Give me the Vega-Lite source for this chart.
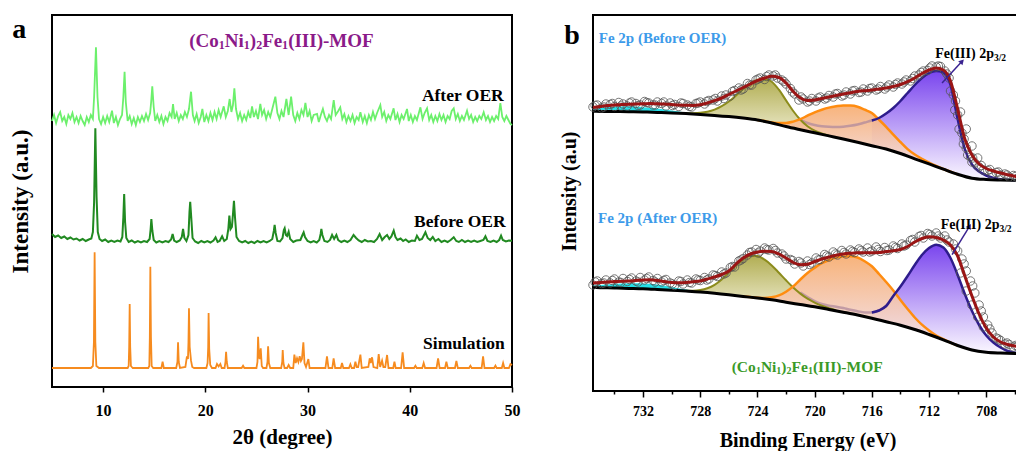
{
"$schema":"https://vega.github.io/schema/vega-lite/v6.json",
"background":"white",
"padding":{"left":8,"top":14,"right":0,"bottom":0},
"spacing":37,
"config":{"view":{"stroke":"black","strokeWidth":2},"font":"Liberation Serif",
"axis":{"labelFont":"Liberation Serif","labelFontWeight":"bold","titleFont":"Liberation Serif","titleFontWeight":"bold","labelColor":"black","titleColor":"black","tickColor":"black","tickWidth":1.5,"domain":false,"grid":false}},
"datasets":{
"sim":[{"x":5,"y":19},{"x":8.8,"y":19},{"x":9.0,"y":21},{"x":9.1,"y":45},{"x":9.17,"y":134.7},{"x":9.24,"y":45},{"x":9.34,"y":21},{"x":9.6,"y":19},{"x":12.4,"y":19},{"x":12.5,"y":21},{"x":12.55,"y":40},{"x":12.6,"y":83},{"x":12.65,"y":40},{"x":12.72,"y":21},{"x":12.9,"y":19},{"x":14.42,"y":19},{"x":14.52,"y":21},{"x":14.57,"y":50},{"x":14.62,"y":120.3},{"x":14.68,"y":50},{"x":14.75,"y":21},{"x":14.9,"y":19},{"x":15.7,"y":19},{"x":15.82,"y":25.3},{"x":15.94,"y":19},{"x":17.15,"y":19},{"x":17.27,"y":25},{"x":17.33,"y":44.7},{"x":17.4,"y":25},{"x":17.52,"y":19},{"x":18.05,"y":20},{"x":18.2,"y":30.7},{"x":18.3,"y":28},{"x":18.35,"y":45},{"x":18.4,"y":78.7},{"x":18.47,"y":40},{"x":18.6,"y":26.3},{"x":18.72,"y":20},{"x":18.9,"y":19},{"x":20.1,"y":19},{"x":20.22,"y":24},{"x":20.28,"y":40},{"x":20.32,"y":74},{"x":20.38,"y":38},{"x":20.48,"y":22},{"x":20.65,"y":19},{"x":21.0,"y":19},{"x":21.14,"y":23},{"x":21.3,"y":20.5},{"x":21.47,"y":23},{"x":21.6,"y":19},{"x":21.88,"y":19},{"x":21.97,"y":25},{"x":22.03,"y":35.3},{"x":22.1,"y":25},{"x":22.2,"y":19},{"x":23.55,"y":19},{"x":23.69,"y":21.3},{"x":23.82,"y":19},{"x":25.0,"y":19},{"x":25.1,"y":25},{"x":25.16,"y":50.3},{"x":25.25,"y":30},{"x":25.32,"y":28},{"x":25.42,"y":38.7},{"x":25.52,"y":21},{"x":25.65,"y":19},{"x":25.98,"y":19},{"x":26.08,"y":25},{"x":26.14,"y":40.7},{"x":26.22,"y":24},{"x":26.35,"y":19},{"x":27.42,"y":19},{"x":27.52,"y":25},{"x":27.57,"y":37},{"x":27.64,"y":24},{"x":27.75,"y":19},{"x":28.0,"y":19},{"x":28.15,"y":22},{"x":28.3,"y":19},{"x":28.6,"y":19},{"x":28.71,"y":32.3},{"x":28.84,"y":24},{"x":28.97,"y":28.7},{"x":29.1,"y":25},{"x":29.23,"y":30.7},{"x":29.35,"y":26},{"x":29.45,"y":28},{"x":29.59,"y":44.7},{"x":29.7,"y":24},{"x":29.85,"y":20},{"x":30.08,"y":28},{"x":30.2,"y":19},{"x":31.75,"y":19},{"x":31.9,"y":30.7},{"x":32.05,"y":19},{"x":32.42,"y":19},{"x":32.55,"y":28.7},{"x":32.7,"y":19},{"x":33.25,"y":19},{"x":33.37,"y":24},{"x":33.5,"y":19},{"x":34.05,"y":19},{"x":34.19,"y":22.7},{"x":34.32,"y":19},{"x":34.55,"y":19},{"x":34.68,"y":25.3},{"x":34.8,"y":20},{"x":34.95,"y":20},{"x":35.17,"y":32.3},{"x":35.3,"y":19},{"x":35.95,"y":20},{"x":36.08,"y":28.7},{"x":36.18,"y":24},{"x":36.31,"y":29.7},{"x":36.45,"y":20},{"x":36.82,"y":19},{"x":36.96,"y":33},{"x":37.1,"y":20},{"x":37.29,"y":26.3},{"x":37.42,"y":20},{"x":37.6,"y":20},{"x":37.78,"y":32},{"x":37.92,"y":19},{"x":38.38,"y":19},{"x":38.5,"y":25.3},{"x":38.62,"y":19},{"x":39.15,"y":19},{"x":39.3,"y":34.7},{"x":39.45,"y":19},{"x":40.42,"y":19},{"x":40.55,"y":21.3},{"x":40.68,"y":19},{"x":41.22,"y":19},{"x":41.36,"y":24},{"x":41.5,"y":19},{"x":42.62,"y":19},{"x":42.77,"y":28.7},{"x":42.92,"y":19},{"x":43.45,"y":19},{"x":43.58,"y":25.3},{"x":43.72,"y":19},{"x":44.42,"y":19},{"x":44.56,"y":26},{"x":44.7,"y":19},{"x":45.8,"y":19},{"x":45.93,"y":21.3},{"x":46.06,"y":19},{"x":47.03,"y":19},{"x":47.17,"y":30.7},{"x":47.31,"y":19},{"x":48.25,"y":19},{"x":48.38,"y":21.3},{"x":48.5,"y":19},{"x":49.0,"y":19},{"x":49.13,"y":24},{"x":49.26,"y":19},{"x":49.7,"y":19},{"x":49.85,"y":23},{"x":50,"y":22}],
"bef":[{"x":5,"y":153},{"x":5.3,"y":150},{"x":5.6,"y":151.5},{"x":5.9,"y":149},{"x":6.2,"y":150.5},{"x":6.5,"y":148},{"x":6.8,"y":149.5},{"x":7.1,"y":147.5},{"x":7.4,"y":148.5},{"x":7.7,"y":146.5},{"x":8.0,"y":148},{"x":8.3,"y":146},{"x":8.6,"y":147.5},{"x":8.85,"y":148.5},{"x":9.0,"y":155},{"x":9.12,"y":185},{"x":9.24,"y":258.7},{"x":9.36,"y":190},{"x":9.48,"y":155},{"x":9.65,"y":148},{"x":9.9,"y":146},{"x":10.2,"y":147.5},{"x":10.5,"y":145},{"x":10.8,"y":146.5},{"x":11.1,"y":145},{"x":11.4,"y":146.5},{"x":11.7,"y":145.5},{"x":11.88,"y":150},{"x":11.98,"y":170},{"x":12.06,"y":193},{"x":12.15,"y":165},{"x":12.27,"y":149},{"x":12.5,"y":145},{"x":12.8,"y":146.5},{"x":13.1,"y":144.5},{"x":13.4,"y":146},{"x":13.7,"y":144.5},{"x":14.0,"y":146},{"x":14.3,"y":145},{"x":14.55,"y":148},{"x":14.65,"y":158},{"x":14.72,"y":168},{"x":14.82,"y":156},{"x":14.95,"y":147},{"x":15.2,"y":144.5},{"x":15.5,"y":146},{"x":15.8,"y":144.5},{"x":16.1,"y":146},{"x":16.4,"y":145},{"x":16.65,"y":147.5},{"x":16.8,"y":153},{"x":16.95,"y":146.5},{"x":17.2,"y":145},{"x":17.5,"y":146.5},{"x":17.7,"y":150},{"x":17.82,"y":158},{"x":17.95,"y":149},{"x":18.15,"y":146},{"x":18.35,"y":152},{"x":18.45,"y":175},{"x":18.52,"y":185.3},{"x":18.62,"y":170},{"x":18.75,"y":149},{"x":19.0,"y":145.5},{"x":19.3,"y":144},{"x":19.6,"y":146},{"x":19.9,"y":144.5},{"x":20.2,"y":146},{"x":20.5,"y":144.5},{"x":20.8,"y":146.5},{"x":21.0,"y":149.7},{"x":21.2,"y":145},{"x":21.4,"y":146},{"x":21.64,"y":150.7},{"x":21.85,"y":146},{"x":22.1,"y":148},{"x":22.25,"y":158},{"x":22.35,"y":171.3},{"x":22.47,"y":158},{"x":22.6,"y":160},{"x":22.72,"y":175},{"x":22.8,"y":186.3},{"x":22.9,"y":170},{"x":23.05,"y":150},{"x":23.3,"y":146},{"x":23.6,"y":144.5},{"x":23.9,"y":146},{"x":24.2,"y":144},{"x":24.5,"y":145.5},{"x":24.8,"y":144},{"x":25.1,"y":146},{"x":25.4,"y":144.5},{"x":25.7,"y":146},{"x":26.0,"y":144.5},{"x":26.3,"y":146},{"x":26.55,"y":148},{"x":26.7,"y":156},{"x":26.78,"y":162},{"x":26.88,"y":154},{"x":27.05,"y":146},{"x":27.3,"y":145.5},{"x":27.55,"y":149},{"x":27.68,"y":157},{"x":27.76,"y":158.7},{"x":27.88,"y":152},{"x":28.0,"y":151},{"x":28.15,"y":155.3},{"x":28.3,"y":148},{"x":28.6,"y":145},{"x":28.9,"y":146.5},{"x":29.3,"y":147},{"x":29.5,"y":152},{"x":29.62,"y":154.7},{"x":29.75,"y":150},{"x":30.0,"y":146},{"x":30.3,"y":144.5},{"x":30.6,"y":146},{"x":30.9,"y":144.5},{"x":31.15,"y":147},{"x":31.28,"y":153},{"x":31.35,"y":158},{"x":31.45,"y":152},{"x":31.65,"y":146},{"x":31.95,"y":145},{"x":32.2,"y":147},{"x":32.4,"y":152},{"x":32.6,"y":148},{"x":32.82,"y":152},{"x":33.0,"y":147},{"x":33.3,"y":145},{"x":33.6,"y":146.5},{"x":33.9,"y":145},{"x":34.2,"y":147},{"x":34.5,"y":152},{"x":34.75,"y":149},{"x":35.0,"y":146.5},{"x":35.3,"y":145},{"x":35.6,"y":147},{"x":35.9,"y":145.5},{"x":36.2,"y":146},{"x":36.5,"y":145},{"x":36.8,"y":148},{"x":37.05,"y":153},{"x":37.3,"y":147},{"x":37.55,"y":150},{"x":37.78,"y":152},{"x":38.0,"y":148},{"x":38.2,"y":150.5},{"x":38.43,"y":156.3},{"x":38.6,"y":150},{"x":38.8,"y":147},{"x":39.1,"y":148.5},{"x":39.35,"y":146},{"x":39.6,"y":147.5},{"x":39.9,"y":145},{"x":40.2,"y":146.5},{"x":40.5,"y":146},{"x":40.7,"y":151.3},{"x":40.95,"y":147},{"x":41.2,"y":148},{"x":41.53,"y":154.7},{"x":41.75,"y":149},{"x":42.0,"y":147},{"x":42.25,"y":150},{"x":42.5,"y":146},{"x":42.8,"y":148},{"x":43.1,"y":145},{"x":43.4,"y":146.5},{"x":43.7,"y":145},{"x":44.0,"y":147},{"x":44.3,"y":149.7},{"x":44.55,"y":146},{"x":44.8,"y":145},{"x":45.1,"y":147},{"x":45.4,"y":145},{"x":45.7,"y":146.5},{"x":46.0,"y":145},{"x":46.3,"y":146.5},{"x":46.6,"y":145},{"x":46.9,"y":146},{"x":47.2,"y":147},{"x":47.4,"y":150.7},{"x":47.6,"y":146},{"x":47.9,"y":145},{"x":48.2,"y":146.5},{"x":48.5,"y":145},{"x":48.75,"y":147},{"x":48.93,"y":151.3},{"x":49.1,"y":147},{"x":49.4,"y":145.5},{"x":49.7,"y":146.5},{"x":50,"y":146.3}],
"aft":[{"x":5,"y":266},{"x":5.2,"y":272},{"x":5.4,"y":264},{"x":5.6,"y":271},{"x":5.8,"y":275},{"x":6.0,"y":266},{"x":6.2,"y":270},{"x":6.4,"y":263},{"x":6.6,"y":272},{"x":6.8,"y":268},{"x":7.0,"y":274},{"x":7.2,"y":265},{"x":7.4,"y":270},{"x":7.6,"y":264},{"x":7.8,"y":271},{"x":8.0,"y":266},{"x":8.2,"y":262},{"x":8.4,"y":270},{"x":8.6,"y":265},{"x":8.8,"y":272},{"x":9.0,"y":268},{"x":9.12,"y":290},{"x":9.3,"y":339.7},{"x":9.45,"y":290},{"x":9.6,"y":268},{"x":9.8,"y":263},{"x":10.0,"y":270},{"x":10.2,"y":264},{"x":10.4,"y":271},{"x":10.6,"y":265},{"x":10.87,"y":276.3},{"x":11.05,"y":264},{"x":11.25,"y":270},{"x":11.45,"y":262},{"x":11.65,"y":268},{"x":11.85,"y":272},{"x":11.98,"y":290},{"x":12.1,"y":315.3},{"x":12.22,"y":285},{"x":12.4,"y":266},{"x":12.6,"y":271},{"x":12.8,"y":263},{"x":13.0,"y":269},{"x":13.2,"y":262},{"x":13.4,"y":270},{"x":13.6,"y":265},{"x":13.8,"y":271},{"x":14.0,"y":266},{"x":14.2,"y":273},{"x":14.4,"y":267},{"x":14.6,"y":274},{"x":14.7,"y":285},{"x":14.81,"y":300.7},{"x":14.95,"y":280},{"x":15.1,"y":266},{"x":15.3,"y":272},{"x":15.5,"y":265},{"x":15.7,"y":271},{"x":15.9,"y":263},{"x":16.1,"y":270},{"x":16.3,"y":266},{"x":16.5,"y":274},{"x":16.7,"y":270},{"x":16.84,"y":283},{"x":17.0,"y":268},{"x":17.2,"y":274},{"x":17.4,"y":266},{"x":17.6,"y":272},{"x":17.8,"y":268},{"x":18.0,"y":275},{"x":18.2,"y":270},{"x":18.4,"y":278},{"x":18.6,"y":295.3},{"x":18.78,"y":272},{"x":18.95,"y":266},{"x":19.15,"y":273},{"x":19.35,"y":264},{"x":19.55,"y":270},{"x":19.71,"y":278},{"x":19.9,"y":265},{"x":20.1,"y":272},{"x":20.3,"y":266},{"x":20.5,"y":274},{"x":20.7,"y":267},{"x":20.9,"y":275},{"x":21.1,"y":268},{"x":21.3,"y":277},{"x":21.5,"y":270},{"x":21.8,"y":280.7},{"x":22.0,"y":270},{"x":22.2,"y":276},{"x":22.38,"y":288},{"x":22.55,"y":275},{"x":22.7,"y":282},{"x":22.84,"y":298.7},{"x":23.0,"y":278},{"x":23.2,"y":268},{"x":23.4,"y":274},{"x":23.6,"y":266},{"x":23.8,"y":272},{"x":24.0,"y":267},{"x":24.2,"y":275},{"x":24.4,"y":269},{"x":24.57,"y":280.7},{"x":24.75,"y":270},{"x":24.95,"y":276},{"x":25.15,"y":268},{"x":25.38,"y":283},{"x":25.55,"y":272},{"x":25.75,"y":277},{"x":25.95,"y":268},{"x":26.15,"y":275},{"x":26.35,"y":270},{"x":26.55,"y":278},{"x":26.85,"y":290.3},{"x":27.05,"y":274},{"x":27.25,"y":268},{"x":27.45,"y":276},{"x":27.65,"y":270},{"x":27.93,"y":288},{"x":28.15,"y":272},{"x":28.39,"y":290.3},{"x":28.6,"y":272},{"x":28.8,"y":266},{"x":29.0,"y":274},{"x":29.2,"y":268},{"x":29.4,"y":277},{"x":29.6,"y":272},{"x":29.79,"y":284},{"x":30.0,"y":270},{"x":30.2,"y":276},{"x":30.4,"y":266},{"x":30.6,"y":272},{"x":30.93,"y":273},{"x":31.1,"y":265},{"x":31.3,"y":272},{"x":31.5,"y":278},{"x":31.7,"y":270},{"x":31.9,"y":266},{"x":32.1,"y":272},{"x":32.3,"y":268},{"x":32.56,"y":287},{"x":32.75,"y":272},{"x":33.0,"y":276},{"x":33.2,"y":279.7},{"x":33.4,"y":268},{"x":33.6,"y":273},{"x":33.8,"y":265},{"x":34.0,"y":271},{"x":34.2,"y":266},{"x":34.4,"y":272},{"x":34.6,"y":264},{"x":34.8,"y":270},{"x":35.0,"y":267},{"x":35.17,"y":274.7},{"x":35.4,"y":265},{"x":35.6,"y":271},{"x":35.8,"y":264},{"x":36.0,"y":272},{"x":36.2,"y":267},{"x":36.4,"y":275},{"x":36.6,"y":268},{"x":36.8,"y":274},{"x":37.12,"y":282},{"x":37.3,"y":270},{"x":37.5,"y":275},{"x":37.7,"y":266},{"x":37.9,"y":272},{"x":38.1,"y":268},{"x":38.42,"y":278.7},{"x":38.6,"y":267},{"x":38.8,"y":273},{"x":39.0,"y":265},{"x":39.2,"y":272},{"x":39.4,"y":268},{"x":39.73,"y":278},{"x":39.9,"y":266},{"x":40.1,"y":272},{"x":40.3,"y":265},{"x":40.5,"y":271},{"x":40.7,"y":267},{"x":41.04,"y":279.7},{"x":41.25,"y":268},{"x":41.45,"y":274},{"x":41.69,"y":278.7},{"x":41.9,"y":267},{"x":42.1,"y":272},{"x":42.3,"y":265},{"x":42.5,"y":271},{"x":42.7,"y":266},{"x":42.9,"y":273},{"x":43.1,"y":267},{"x":43.3,"y":272},{"x":43.5,"y":265},{"x":43.7,"y":271},{"x":43.9,"y":268},{"x":44.1,"y":276},{"x":44.3,"y":278.7},{"x":44.5,"y":268},{"x":44.7,"y":273},{"x":44.9,"y":266},{"x":45.1,"y":271},{"x":45.3,"y":267},{"x":45.6,"y":276.3},{"x":45.8,"y":268},{"x":46.0,"y":272},{"x":46.2,"y":265},{"x":46.4,"y":270},{"x":46.6,"y":266},{"x":46.8,"y":271},{"x":47.0,"y":268},{"x":47.23,"y":274.7},{"x":47.45,"y":267},{"x":47.65,"y":271},{"x":47.85,"y":265},{"x":48.05,"y":270},{"x":48.25,"y":266},{"x":48.45,"y":271},{"x":48.65,"y":268},{"x":48.86,"y":284},{"x":49.05,"y":270},{"x":49.25,"y":266},{"x":49.45,"y":271},{"x":49.65,"y":267},{"x":49.85,"y":263},{"x":50,"y":262}],
"bg":[{"s":"U","x":735.5,"y":279.7},{"s":"U","x":735,"y":279.6},{"s":"U","x":734,"y":279.5},{"s":"U","x":733,"y":279.3},{"s":"U","x":732,"y":279},{"s":"U","x":731,"y":278.6},{"s":"U","x":730,"y":278.1},{"s":"U","x":729,"y":277.4},{"s":"U","x":728,"y":276.6},{"s":"U","x":727,"y":275.6},{"s":"U","x":726,"y":274.4},{"s":"U","x":725,"y":272.9},{"s":"U","x":724,"y":271},{"s":"U","x":723,"y":268},{"s":"U","x":722,"y":264.5},{"s":"U","x":721,"y":261.3},{"s":"U","x":720,"y":258.2},{"s":"U","x":719,"y":255.1},{"s":"U","x":718,"y":252},{"s":"U","x":717,"y":248.7},{"s":"U","x":716,"y":245.3},{"s":"U","x":715,"y":242},{"s":"U","x":714,"y":237.5},{"s":"U","x":713,"y":232.2},{"s":"U","x":712,"y":227.1},{"s":"U","x":711,"y":221.8},{"s":"U","x":710,"y":216.7},{"s":"U","x":709,"y":212.8},{"s":"U","x":708,"y":211.5},{"s":"U","x":707,"y":211},{"s":"U","x":706,"y":210.7},{"s":"U","x":705.5,"y":210.6},
{"s":"L","x":735.5,"y":103.5},{"s":"L","x":735,"y":103.3},{"s":"L","x":734,"y":103},{"s":"L","x":733,"y":102.6},{"s":"L","x":732,"y":102.2},{"s":"L","x":731,"y":101.5},{"s":"L","x":730,"y":100.7},{"s":"L","x":729,"y":99.9},{"s":"L","x":728,"y":99},{"s":"L","x":727,"y":97.8},{"s":"L","x":726,"y":96.3},{"s":"L","x":725,"y":94.6},{"s":"L","x":724,"y":93},{"s":"L","x":723,"y":91.2},{"s":"L","x":722,"y":88.8},{"s":"L","x":721,"y":86.5},{"s":"L","x":720,"y":84.2},{"s":"L","x":719,"y":81.5},{"s":"L","x":718,"y":78.8},{"s":"L","x":717,"y":76},{"s":"L","x":716,"y":72.8},{"s":"L","x":715,"y":69.3},{"s":"L","x":714,"y":65.8},{"s":"L","x":713,"y":61.5},{"s":"L","x":712,"y":56.5},{"s":"L","x":711,"y":51.2},{"s":"L","x":710,"y":45.5},{"s":"L","x":709,"y":41},{"s":"L","x":708,"y":38.8},{"s":"L","x":707,"y":38},{"s":"L","x":706,"y":37.6},{"s":"L","x":705.5,"y":37.5}],
"env":[{"s":"U","x":735.5,"y":283.5},{"s":"U","x":735,"y":284.5},{"s":"U","x":734.5,"y":285.5},{"s":"U","x":734,"y":286},{"s":"U","x":733.5,"y":286.5},{"s":"U","x":733,"y":286.8},{"s":"U","x":732.5,"y":287},{"s":"U","x":732,"y":287.2},{"s":"U","x":731.5,"y":287.5},{"s":"U","x":731,"y":287.3},{"s":"U","x":730.5,"y":287},{"s":"U","x":730,"y":286.5},{"s":"U","x":729.5,"y":286},{"s":"U","x":729,"y":285.7},{"s":"U","x":728.5,"y":285.5},{"s":"U","x":728,"y":286.3},{"s":"U","x":727.5,"y":288},{"s":"U","x":727,"y":290.3},{"s":"U","x":726.5,"y":293},{"s":"U","x":726,"y":296.5},{"s":"U","x":725.5,"y":300},{"s":"U","x":725,"y":303.5},{"s":"U","x":724.5,"y":307},{"s":"U","x":724,"y":310.3},{"s":"U","x":723.5,"y":313},{"s":"U","x":723,"y":314.7},{"s":"U","x":722.5,"y":313.5},{"s":"U","x":722,"y":308},{"s":"U","x":721.5,"y":299.5},{"s":"U","x":721,"y":293},{"s":"U","x":720.5,"y":290.5},{"s":"U","x":720,"y":291},{"s":"U","x":719.5,"y":292.5},{"s":"U","x":719,"y":294},{"s":"U","x":718.5,"y":295.5},{"s":"U","x":718,"y":297},{"s":"U","x":717.5,"y":298.3},{"s":"U","x":717,"y":299.5},{"s":"U","x":716.5,"y":300.3},{"s":"U","x":716,"y":301},{"s":"U","x":715.5,"y":302},{"s":"U","x":715,"y":303},{"s":"U","x":714.5,"y":304.5},{"s":"U","x":714,"y":306.5},{"s":"U","x":713.5,"y":309.3},{"s":"U","x":713,"y":313},{"s":"U","x":712.5,"y":317.5},{"s":"U","x":712,"y":321},{"s":"U","x":711.5,"y":323},{"s":"U","x":711,"y":321},{"s":"U","x":710.5,"y":310},{"s":"U","x":710,"y":282},{"s":"U","x":709.5,"y":252},{"s":"U","x":709,"y":236},{"s":"U","x":708.5,"y":227},{"s":"U","x":708,"y":222.5},{"s":"U","x":707.5,"y":220},{"s":"U","x":707,"y":218},{"s":"U","x":706.5,"y":216.3},{"s":"U","x":706,"y":214.7},{"s":"U","x":705.5,"y":213.5},
{"s":"L","x":735.5,"y":108},{"s":"L","x":735,"y":108.5},{"s":"L","x":734.5,"y":109},{"s":"L","x":734,"y":109.5},{"s":"L","x":733.5,"y":109.8},{"s":"L","x":733,"y":110},{"s":"L","x":732.5,"y":110.5},{"s":"L","x":732,"y":111},{"s":"L","x":731.5,"y":111.3},{"s":"L","x":731,"y":110.5},{"s":"L","x":730.5,"y":109.5},{"s":"L","x":730,"y":108.5},{"s":"L","x":729.5,"y":108.3},{"s":"L","x":729,"y":108.5},{"s":"L","x":728.5,"y":109.2},{"s":"L","x":728,"y":110},{"s":"L","x":727.5,"y":112},{"s":"L","x":727,"y":114},{"s":"L","x":726.5,"y":116.5},{"s":"L","x":726,"y":120},{"s":"L","x":725.5,"y":127},{"s":"L","x":725,"y":133},{"s":"L","x":724.5,"y":137},{"s":"L","x":724,"y":139},{"s":"L","x":723.5,"y":139.8},{"s":"L","x":723,"y":139.5},{"s":"L","x":722.5,"y":137},{"s":"L","x":722,"y":133},{"s":"L","x":721.5,"y":128.5},{"s":"L","x":721,"y":126.3},{"s":"L","x":720.5,"y":126.8},{"s":"L","x":720,"y":129.5},{"s":"L","x":719.5,"y":132},{"s":"L","x":719,"y":134},{"s":"L","x":718.5,"y":135.8},{"s":"L","x":718,"y":137},{"s":"L","x":717.5,"y":137.7},{"s":"L","x":717,"y":138.2},{"s":"L","x":716.5,"y":138.3},{"s":"L","x":716,"y":138.2},{"s":"L","x":715.5,"y":138.5},{"s":"L","x":715,"y":139.5},{"s":"L","x":714.5,"y":140.3},{"s":"L","x":714,"y":141.5},{"s":"L","x":713.5,"y":144.5},{"s":"L","x":713,"y":149},{"s":"L","x":712.5,"y":152.5},{"s":"L","x":712,"y":154.2},{"s":"L","x":711.5,"y":153.5},{"s":"L","x":711,"y":151},{"s":"L","x":710.5,"y":146},{"s":"L","x":710,"y":135},{"s":"L","x":709.5,"y":115},{"s":"L","x":709,"y":95},{"s":"L","x":708.5,"y":77},{"s":"L","x":708,"y":63},{"s":"L","x":707.5,"y":54},{"s":"L","x":707,"y":49},{"s":"L","x":706.5,"y":46.5},{"s":"L","x":706,"y":45},{"s":"L","x":705.5,"y":44}],
"cyan":[{"s":"U","x":735.5,"y":282,"b":279.7},{"s":"U","x":735,"y":283,"b":279.6},{"s":"U","x":734.5,"y":283.8,"b":279.55},{"s":"U","x":734,"y":284.3,"b":279.5},{"s":"U","x":733.5,"y":284.6,"b":279.4},{"s":"U","x":733,"y":284.7,"b":279.3},{"s":"U","x":732.5,"y":284.4,"b":279.15},{"s":"U","x":732,"y":283.8,"b":279},{"s":"U","x":731.5,"y":283.2,"b":278.8},{"s":"U","x":731,"y":282.5,"b":278.6},{"s":"U","x":730.5,"y":281.5,"b":278.35},{"s":"U","x":730,"y":280.5,"b":278.1},{"s":"U","x":729.5,"y":279.6,"b":277.75},{"s":"U","x":729,"y":278.8,"b":277.4},{"s":"U","x":728.5,"y":277.8,"b":277},{"s":"U","x":728,"y":276.8,"b":276.6},{"s":"U","x":727.5,"y":276.1,"b":276.1},
{"s":"L","x":735.5,"y":105.5,"b":103.5},{"s":"L","x":735,"y":106,"b":103.3},{"s":"L","x":734.5,"y":106.5,"b":103.2},{"s":"L","x":734,"y":107,"b":103},{"s":"L","x":733.5,"y":107.4,"b":102.8},{"s":"L","x":733,"y":107.7,"b":102.6},{"s":"L","x":732.5,"y":107.8,"b":102.4},{"s":"L","x":732,"y":107.6,"b":102.2},{"s":"L","x":731.5,"y":107.2,"b":101.9},{"s":"L","x":731,"y":106.4,"b":101.5},{"s":"L","x":730.5,"y":105.3,"b":101.1},{"s":"L","x":730,"y":104.1,"b":100.7},{"s":"L","x":729.5,"y":102.8,"b":100.3},{"s":"L","x":729,"y":101.5,"b":99.9},{"s":"L","x":728.5,"y":100.3,"b":99.45},{"s":"L","x":728,"y":99.3,"b":99},{"s":"L","x":727.5,"y":98.4,"b":98.4}],
"olive":[{"s":"U","x":729,"y":277.7,"b":277.4},{"s":"U","x":728.5,"y":277.8,"b":277},{"s":"U","x":728,"y":278.2,"b":276.6},{"s":"U","x":727.5,"y":279.3,"b":276.1},{"s":"U","x":727,"y":281.4,"b":275.6},{"s":"U","x":726.5,"y":284.8,"b":275},{"s":"U","x":726,"y":289.5,"b":274.4},{"s":"U","x":725.5,"y":295.5,"b":273.7},{"s":"U","x":725,"y":301.9,"b":272.9},{"s":"U","x":724.5,"y":307.7,"b":272},{"s":"U","x":724,"y":311.2,"b":271},{"s":"U","x":723.5,"y":311.9,"b":269.6},{"s":"U","x":723,"y":309.3,"b":268},{"s":"U","x":722.5,"y":301.3,"b":266.3},{"s":"U","x":722,"y":290.6,"b":264.5},{"s":"U","x":721.5,"y":280,"b":262.9},{"s":"U","x":721,"y":271.2,"b":261.3},{"s":"U","x":720.5,"y":264.8,"b":259.8},{"s":"U","x":720,"y":260.4,"b":258.2},{"s":"U","x":719.5,"y":257.5,"b":256.6},{"s":"U","x":719,"y":255.4,"b":255.1},
{"s":"L","x":729,"y":100.2,"b":99.9},{"s":"L","x":728.5,"y":100.3,"b":99.45},{"s":"L","x":728,"y":101,"b":99},{"s":"L","x":727.5,"y":102.8,"b":98.4},{"s":"L","x":727,"y":106.2,"b":97.8},{"s":"L","x":726.5,"y":111.6,"b":97.1},{"s":"L","x":726,"y":118.7,"b":96.3},{"s":"L","x":725.5,"y":125.5,"b":95.5},{"s":"L","x":725,"y":131.8,"b":94.6},{"s":"L","x":724.5,"y":135.3,"b":93.8},{"s":"L","x":724,"y":135,"b":93},{"s":"L","x":723.5,"y":131.3,"b":92.1},{"s":"L","x":723,"y":125.6,"b":91.2},{"s":"L","x":722.5,"y":118.3,"b":90},{"s":"L","x":722,"y":110.7,"b":88.8},{"s":"L","x":721.5,"y":103.5,"b":87.6},{"s":"L","x":721,"y":97.4,"b":86.5},{"s":"L","x":720.5,"y":92.3,"b":85.3},{"s":"L","x":720,"y":88.4,"b":84.2},{"s":"L","x":719.5,"y":85.2,"b":82.8},{"s":"L","x":719,"y":82.8,"b":81.5},{"s":"L","x":718.5,"y":80.8,"b":80.2}],
"orange":[{"s":"U","x":724,"y":271.1,"b":271},{"s":"U","x":723.5,"y":269.9,"b":269.6},{"s":"U","x":723,"y":268.6,"b":268},{"s":"U","x":722.5,"y":267.9,"b":266.3},{"s":"U","x":722,"y":268,"b":264.5},{"s":"U","x":721.5,"y":269.4,"b":262.9},{"s":"U","x":721,"y":271.8,"b":261.3},{"s":"U","x":720.5,"y":275.3,"b":259.8},{"s":"U","x":720,"y":278.7,"b":258.2},{"s":"U","x":719.5,"y":281.3,"b":256.6},{"s":"U","x":719,"y":283.4,"b":255.1},{"s":"U","x":718.5,"y":284.7,"b":253.5},{"s":"U","x":718,"y":285.5,"b":252},{"s":"U","x":717.5,"y":285.4,"b":250.4},{"s":"U","x":717,"y":284.3,"b":248.7},{"s":"U","x":716.5,"y":281.3,"b":247},{"s":"U","x":716,"y":278,"b":245.3},{"s":"U","x":715.5,"y":271.3,"b":243.6},{"s":"U","x":715,"y":264.2,"b":242},{"s":"U","x":714.5,"y":256.3,"b":239.8},{"s":"U","x":714,"y":249,"b":237.5},{"s":"U","x":713.5,"y":241.9,"b":234.9},{"s":"U","x":713,"y":236.5,"b":232.2},{"s":"U","x":712.5,"y":232.2,"b":229.7},{"s":"U","x":712,"y":228.4,"b":227.1},{"s":"U","x":711.5,"y":225,"b":224.4},{"s":"U","x":711,"y":222,"b":221.8},{"s":"U","x":710.5,"y":219.3,"b":219.2},{"s":"U","x":710,"y":216.7,"b":216.7},
{"s":"L","x":725,"y":94.6,"b":94.6},{"s":"L","x":724.5,"y":93.9,"b":93.8},{"s":"L","x":724,"y":93.3,"b":93},{"s":"L","x":723.5,"y":93,"b":92.1},{"s":"L","x":723,"y":93.8,"b":91.2},{"s":"L","x":722.5,"y":95.6,"b":90},{"s":"L","x":722,"y":99.3,"b":88.8},{"s":"L","x":721.5,"y":104.6,"b":87.6},{"s":"L","x":721,"y":111.5,"b":86.5},{"s":"L","x":720.5,"y":118,"b":85.3},{"s":"L","x":720,"y":123.2,"b":84.2},{"s":"L","x":719.5,"y":127.8,"b":82.8},{"s":"L","x":719,"y":131,"b":81.5},{"s":"L","x":718.5,"y":133.4,"b":80.2},{"s":"L","x":718,"y":134.5,"b":78.8},{"s":"L","x":717.5,"y":134.7,"b":77.4},{"s":"L","x":717,"y":133.5,"b":76},{"s":"L","x":716.5,"y":129.8,"b":74.4},{"s":"L","x":716,"y":124.7,"b":72.8},{"s":"L","x":715.5,"y":117,"b":71},{"s":"L","x":715,"y":109,"b":69.3},{"s":"L","x":714.5,"y":100.5,"b":67.5},{"s":"L","x":714,"y":91,"b":65.8},{"s":"L","x":713.5,"y":82,"b":63.7},{"s":"L","x":713,"y":73.5,"b":61.5},{"s":"L","x":712.5,"y":66.3,"b":59},{"s":"L","x":712,"y":60.5,"b":56.5},{"s":"L","x":711.5,"y":55.5,"b":53.9},{"s":"L","x":711,"y":51.8,"b":51.2},{"s":"L","x":710.5,"y":48.4,"b":48.3},{"s":"L","x":710,"y":45.5,"b":45.5}],
"purple":[{"s":"U","x":716,"y":270.5,"b":245.3},{"s":"U","x":715.5,"y":273,"b":243.6},{"s":"U","x":715,"y":277.5,"b":242},{"s":"U","x":714.5,"y":283,"b":239.8},{"s":"U","x":714,"y":290,"b":237.5},{"s":"U","x":713.5,"y":298,"b":234.9},{"s":"U","x":713,"y":306,"b":232.2},{"s":"U","x":712.5,"y":313,"b":229.7},{"s":"U","x":712,"y":318,"b":227.1},{"s":"U","x":711.5,"y":320,"b":224.4},{"s":"U","x":711,"y":318.5,"b":221.8},{"s":"U","x":710.5,"y":306,"b":219.2},{"s":"U","x":710,"y":272,"b":216.7},{"s":"U","x":709.5,"y":242,"b":214.5},{"s":"U","x":709,"y":226.5,"b":212.8},{"s":"U","x":708.5,"y":219.5,"b":212},{"s":"U","x":708,"y":215.5,"b":211.5},{"s":"U","x":707.5,"y":213,"b":211.2},{"s":"U","x":707,"y":211.8,"b":211},{"s":"U","x":706.5,"y":211.2,"b":210.8},{"s":"U","x":706,"y":210.8,"b":210.7},{"s":"U","x":705.5,"y":210.6,"b":210.6},
{"s":"L","x":716,"y":78.5,"b":72.8},{"s":"L","x":715.5,"y":80.5,"b":71},{"s":"L","x":715,"y":85,"b":69.3},{"s":"L","x":714.5,"y":95,"b":67.5},{"s":"L","x":714,"y":104.5,"b":65.8},{"s":"L","x":713.5,"y":115,"b":63.7},{"s":"L","x":713,"y":126,"b":61.5},{"s":"L","x":712.5,"y":136,"b":59},{"s":"L","x":712,"y":143,"b":56.5},{"s":"L","x":711.5,"y":146.3,"b":53.9},{"s":"L","x":711,"y":143.5,"b":51.2},{"s":"L","x":710.5,"y":133,"b":48.3},{"s":"L","x":710,"y":116,"b":45.5},{"s":"L","x":709.5,"y":97,"b":43},{"s":"L","x":709,"y":80,"b":41},{"s":"L","x":708.5,"y":66,"b":39.7},{"s":"L","x":708,"y":55.5,"b":38.8},{"s":"L","x":707.5,"y":48.5,"b":38.3},{"s":"L","x":707,"y":43.5,"b":38},{"s":"L","x":706.5,"y":40,"b":37.8},{"s":"L","x":706,"y":38.3,"b":37.6},{"s":"L","x":705.5,"y":37.6,"b":37.5}],
"mauve":[{"s":"U","x":721,"y":271.5},{"s":"U","x":720.5,"y":268},{"s":"U","x":720,"y":266},{"s":"U","x":719.5,"y":264.8},{"s":"U","x":719,"y":264.2},{"s":"U","x":718.5,"y":264},{"s":"U","x":718,"y":264.3},{"s":"U","x":717.5,"y":265.2},{"s":"U","x":717,"y":266.5},{"s":"U","x":716.5,"y":268.5},{"s":"U","x":716,"y":270.5},{"s":"U","x":715.5,"y":273},
{"s":"L","x":721,"y":98.5},{"s":"L","x":720.5,"y":94},{"s":"L","x":720,"y":90},{"s":"L","x":719.5,"y":87},{"s":"L","x":719,"y":85.3},{"s":"L","x":718.5,"y":84.3},{"s":"L","x":718,"y":83},{"s":"L","x":717.5,"y":81.3},{"s":"L","x":717,"y":79.8},{"s":"L","x":716.5,"y":78.6},{"s":"L","x":716,"y":78.5},{"s":"L","x":715.5,"y":80.5},{"s":"L","x":715,"y":85}],
"pts":[{"x":735.5,"y":284},{"x":735.2,"y":286},{"x":734.9,"y":283},{"x":734.6,"y":287},{"x":734.3,"y":286.5},{"x":734.0,"y":284.5},{"x":733.7,"y":288.5},{"x":733.4,"y":287},{"x":733.1,"y":285},{"x":732.8,"y":289},{"x":732.5,"y":287.5},{"x":732.2,"y":286},{"x":731.9,"y":289.5},{"x":731.6,"y":288},{"x":731.3,"y":286},{"x":731.0,"y":289},{"x":730.7,"y":287.5},{"x":730.4,"y":285},{"x":730.1,"y":288},{"x":729.8,"y":286.5},{"x":729.5,"y":284.5},{"x":729.2,"y":287.5},{"x":728.9,"y":286},{"x":728.6,"y":284},{"x":728.3,"y":287.5},{"x":728.0,"y":289},{"x":727.7,"y":287},{"x":727.4,"y":290.5},{"x":727.1,"y":291},{"x":726.8,"y":290},{"x":726.5,"y":295},{"x":726.2,"y":296},{"x":725.9,"y":295},{"x":725.6,"y":300.5},{"x":725.3,"y":303},{"x":725.0,"y":302},{"x":724.7,"y":307.5},{"x":724.4,"y":306},{"x":724.1,"y":311},{"x":723.8,"y":313},{"x":723.5,"y":311.5},{"x":723.2,"y":316},{"x":722.9,"y":315},{"x":722.6,"y":313},{"x":722.3,"y":311},{"x":722.0,"y":307},{"x":721.7,"y":302.5},{"x":721.4,"y":297},{"x":721.1,"y":291},{"x":720.8,"y":292},{"x":720.5,"y":289},{"x":720.2,"y":292.5},{"x":719.9,"y":290},{"x":719.6,"y":294},{"x":719.3,"y":292},{"x":719.0,"y":295.5},{"x":718.7,"y":294},{"x":718.4,"y":297.5},{"x":718.1,"y":295},{"x":717.8,"y":299},{"x":717.5,"y":297},{"x":717.2,"y":300.5},{"x":716.9,"y":298.5},{"x":716.6,"y":302},{"x":716.3,"y":300},{"x":716.0,"y":303},{"x":715.7,"y":301},{"x":715.4,"y":304.5},{"x":715.1,"y":302},{"x":714.8,"y":306},{"x":714.5,"y":304},{"x":714.2,"y":308},{"x":713.9,"y":307},{"x":713.6,"y":311},{"x":713.3,"y":310},{"x":713.0,"y":315},{"x":712.7,"y":316},{"x":712.4,"y":320},{"x":712.1,"y":320.5},{"x":711.8,"y":325},{"x":711.5,"y":324},{"x":711.2,"y":324.5},{"x":710.9,"y":320},{"x":710.6,"y":313},{"x":710.3,"y":296},{"x":710.0,"y":276},{"x":709.7,"y":258},{"x":709.4,"y":243},{"x":709.1,"y":234},{"x":708.8,"y":228},{"x":708.5,"y":224},{"x":708.2,"y":221},{"x":707.9,"y":220.5},{"x":707.6,"y":217},{"x":707.3,"y":218.5},{"x":707.0,"y":216},{"x":706.7,"y":217},{"x":706.4,"y":214},{"x":706.1,"y":215.5},{"x":705.8,"y":213},{"x":710.5,"y":300},{"x":710.2,"y":281},{"x":709.9,"y":262},{"x":709.6,"y":247},{"x":709.3,"y":236},{"x":709.0,"y":229},{"x":709.8,"y":279},{"x":709.4,"y":262},{"x":709.0,"y":245},{"x":708.6,"y":233},
{"x":735.35,"y":285.5},{"x":734.75,"y":284},{"x":734.15,"y":287.5},{"x":733.55,"y":285},{"x":732.95,"y":288},{"x":732.35,"y":285.5},{"x":731.75,"y":288.5},{"x":731.15,"y":286},{"x":730.55,"y":289},{"x":729.95,"y":285.5},{"x":729.35,"y":288},{"x":728.75,"y":284.5},{"x":728.15,"y":288},{"x":727.55,"y":289.5},{"x":726.95,"y":292.5},{"x":726.35,"y":292.5},{"x":725.75,"y":299.5},{"x":725.15,"y":301},{"x":724.55,"y":306},{"x":723.95,"y":312},{"x":723.35,"y":314.5},{"x":722.75,"y":316},{"x":722.15,"y":309.5},{"x":721.55,"y":299},{"x":720.95,"y":294},{"x":720.35,"y":290},{"x":719.75,"y":293},{"x":719.15,"y":293},{"x":718.55,"y":297},{"x":717.95,"y":296},{"x":717.35,"y":300},{"x":716.75,"y":299},{"x":716.15,"y":302.5},{"x":715.55,"y":302},{"x":714.95,"y":304},{"x":714.35,"y":306.5},{"x":713.75,"y":309},{"x":713.15,"y":312.5},{"x":712.55,"y":318.5},{"x":711.95,"y":323},{"x":711.35,"y":325},{"x":710.75,"y":317},{"x":710.15,"y":290},{"x":709.55,"y":252},{"x":708.95,"y":233},{"x":708.35,"y":225.5},{"x":707.75,"y":221.5},{"x":707.15,"y":219},{"x":706.55,"y":216},{"x":705.95,"y":214.5},
{"x":735.5,"y":106},{"x":735.2,"y":110},{"x":734.9,"y":107.5},{"x":734.6,"y":111},{"x":734.3,"y":108},{"x":734.0,"y":112},{"x":733.7,"y":109},{"x":733.4,"y":112.5},{"x":733.1,"y":109.5},{"x":732.8,"y":113},{"x":732.5,"y":110},{"x":732.2,"y":113.5},{"x":731.9,"y":111},{"x":731.6,"y":114},{"x":731.3,"y":110.5},{"x":731.0,"y":112.5},{"x":730.7,"y":109},{"x":730.4,"y":111.5},{"x":730.1,"y":108},{"x":729.8,"y":105.5},{"x":729.5,"y":110},{"x":729.2,"y":107},{"x":728.9,"y":111},{"x":728.6,"y":108},{"x":728.3,"y":112},{"x":728.0,"y":110.5},{"x":727.7,"y":113.5},{"x":727.4,"y":112},{"x":727.1,"y":116},{"x":726.8,"y":114.5},{"x":726.5,"y":119},{"x":726.2,"y":118},{"x":725.9,"y":123.5},{"x":725.6,"y":124},{"x":725.3,"y":130},{"x":725.0,"y":132.5},{"x":724.7,"y":136},{"x":724.4,"y":139},{"x":724.1,"y":141.5},{"x":723.8,"y":140},{"x":723.5,"y":143},{"x":723.2,"y":141},{"x":722.9,"y":142.5},{"x":722.6,"y":138},{"x":722.3,"y":137},{"x":722.0,"y":132},{"x":721.7,"y":131.5},{"x":721.4,"y":127},{"x":721.1,"y":129.5},{"x":720.8,"y":125},{"x":720.5,"y":130},{"x":720.2,"y":128},{"x":719.9,"y":133},{"x":719.6,"y":131.5},{"x":719.3,"y":136.5},{"x":719.0,"y":134},{"x":718.7,"y":139},{"x":718.4,"y":136},{"x":718.1,"y":140.5},{"x":717.8,"y":137},{"x":717.5,"y":141},{"x":717.2,"y":138.5},{"x":716.9,"y":142},{"x":716.6,"y":139},{"x":716.3,"y":143},{"x":716.0,"y":140},{"x":715.7,"y":144},{"x":715.4,"y":139.5},{"x":715.1,"y":143.5},{"x":714.8,"y":141},{"x":714.5,"y":145},{"x":714.2,"y":142.5},{"x":713.9,"y":147},{"x":713.6,"y":146},{"x":713.3,"y":150.5},{"x":713.0,"y":149},{"x":712.7,"y":154.5},{"x":712.4,"y":153},{"x":712.1,"y":157.5},{"x":711.8,"y":155},{"x":711.5,"y":158},{"x":711.2,"y":153},{"x":710.9,"y":155},{"x":710.6,"y":149},{"x":710.3,"y":147},{"x":710.0,"y":140},{"x":709.7,"y":132},{"x":709.4,"y":120},{"x":709.1,"y":110},{"x":708.8,"y":98},{"x":708.5,"y":86},{"x":708.2,"y":74},{"x":707.9,"y":66},{"x":707.6,"y":58},{"x":707.3,"y":53},{"x":707.0,"y":50.5},{"x":706.7,"y":47},{"x":706.4,"y":46.5},{"x":706.1,"y":44},{"x":705.8,"y":45},{"x":709.8,"y":118},{"x":709.4,"y":100},{"x":709.0,"y":86},{"x":708.6,"y":74},{"x":708.2,"y":64},
{"x":735.35,"y":109},{"x":734.75,"y":108},{"x":734.15,"y":110.5},{"x":733.55,"y":108.5},{"x":732.95,"y":111.5},{"x":732.35,"y":109},{"x":731.75,"y":112.5},{"x":731.15,"y":109},{"x":730.55,"y":110.5},{"x":729.95,"y":107},{"x":729.35,"y":109.5},{"x":728.75,"y":108.5},{"x":728.15,"y":111},{"x":727.55,"y":111},{"x":726.95,"y":115.5},{"x":726.35,"y":117},{"x":725.75,"y":124.5},{"x":725.15,"y":131},{"x":724.55,"y":138.5},{"x":723.95,"y":138},{"x":723.35,"y":141.5},{"x":722.75,"y":140.5},{"x":722.15,"y":135},{"x":721.55,"y":130.5},{"x":720.95,"y":128},{"x":720.35,"y":126.5},{"x":719.75,"y":131},{"x":719.15,"y":135},{"x":718.55,"y":137},{"x":717.95,"y":138.5},{"x":717.35,"y":139.5},{"x":716.75,"y":140.5},{"x":716.15,"y":139},{"x":715.55,"y":141.5},{"x":714.95,"y":140.5},{"x":714.35,"y":143.5},{"x":713.75,"y":145},{"x":713.15,"y":151.5},{"x":712.55,"y":155.5},{"x":711.95,"y":156.5},{"x":711.35,"y":155},{"x":710.75,"y":151},{"x":710.15,"y":142},{"x":709.55,"y":127},{"x":708.95,"y":105},{"x":708.35,"y":80},{"x":707.75,"y":62},{"x":707.15,"y":52},{"x":706.55,"y":48},{"x":705.95,"y":45.5}]
},
"hconcat":[
{"width":460,"height":372,
"encoding":{"x":{"field":"x","type":"quantitative","scale":{"domain":[5,50],"nice":false,"zero":false},"axis":{"values":[10,20,30,40,50],"title":"2θ (degree)","titleFontSize":21,"labelFontSize":16,"tickSize":5,"labelPadding":10,"titlePadding":8,"labelFlush":false}},
"y":{"field":"y","type":"quantitative","scale":{"domain":[0,372],"nice":false,"zero":false},"axis":{"title":"Intensity (a.u.)","labels":false,"ticks":false,"titleFontSize":23,"titlePadding":20}}},
"layer":[
{"data":{"name":"aft"},"mark":{"type":"line","color":"#6CF06C","strokeWidth":1.8}},
{"data":{"name":"bef"},"mark":{"type":"line","color":"#218A21","strokeWidth":2}},
{"data":{"name":"sim"},"mark":{"type":"line","color":"#F68B1F","strokeWidth":1.8}},
{"data":{"values":[{"x":49.19,"y":291.3,"t":"After OER"},{"x":49.38,"y":165,"t":"Before OER"},{"x":49.29,"y":43,"t":"Simulation"}]},"mark":{"type":"text","align":"right","font":"Liberation Serif","fontWeight":"bold","fontSize":17.5,"color":"black"},"encoding":{"text":{"field":"t"}}},
{"data":{"values":[{"x":18.43,"y":346,"t":"(Co"},{"x":21.91,"y":346,"t":"Ni"},{"x":24.35,"y":346,"t":")"},{"x":25.56,"y":346,"t":"Fe"},{"x":28.1,"y":346,"t":"(III)-MOF"}]},"mark":{"type":"text","align":"left","font":"Liberation Serif","fontWeight":"bold","fontSize":19,"color":"#8B1A89"},"encoding":{"text":{"field":"t"}}},
{"data":{"values":[{"x":21.32,"y":342,"t":"1"},{"x":23.77,"y":342,"t":"1"},{"x":24.97,"y":342,"t":"2"},{"x":27.51,"y":342,"t":"1"}]},"mark":{"type":"text","align":"left","font":"Liberation Serif","fontWeight":"bold","fontSize":12,"color":"#8B1A89"},"encoding":{"text":{"field":"t"}}},
{"data":{"values":[{"x":1.8,"y":357,"t":"a"}]},"mark":{"type":"text","align":"center","font":"Liberation Serif","fontWeight":"bold","fontSize":28,"color":"black"},"encoding":{"text":{"field":"t"}}}
]},
{"width":429,"height":376,
"encoding":{"x":{"field":"x","type":"quantitative","scale":{"domain":[705.5,735.5],"reverse":true,"nice":false,"zero":false},"axis":{"values":[734,732,730,728,726,724,722,720,718,716,714,712,710,708,706],"labelExpr":"datum.value % 4 === 0 ? datum.label : ''","tickSize":{"condition":{"test":"datum.value % 4 === 0","value":6},"value":3},"title":"Binding Energy (eV)","titleFontSize":20,"labelFontSize":14,"labelPadding":7,"titlePadding":12}},
"y":{"field":"y","type":"quantitative","scale":{"domain":[0,376],"nice":false,"zero":false},"axis":{"title":"Intensity (a.u)","labels":false,"ticks":false,"titleFontSize":20,"titlePadding":14,"titleY":176}}},
"layer":[
{"data":{"name":"cyan"},"mark":{"type":"area","color":"#19DDE6","interpolate":"monotone","opacity":0.95},"encoding":{"y2":{"field":"b"},"detail":{"field":"s"}}},
{"data":{"name":"olive"},"mark":{"type":"area","interpolate":"monotone","opacity":0.85,"color":{"gradient":"linear","x1":0,"y1":0,"x2":0,"y2":1,"stops":[{"offset":0,"color":"#A4A035"},{"offset":1,"color":"#ECE9C8"}]}},"encoding":{"y2":{"field":"b"},"detail":{"field":"s"}}},
{"data":{"name":"purple"},"mark":{"type":"area","interpolate":"monotone","color":{"gradient":"linear","x1":0,"y1":0,"x2":0,"y2":1,"stops":[{"offset":0,"color":"#7A45EE"},{"offset":1,"color":"#FBF8FF"}]}},"encoding":{"y2":{"field":"b"},"detail":{"field":"s"}}},
{"data":{"name":"orange"},"mark":{"type":"area","interpolate":"monotone","opacity":0.93,"color":{"gradient":"linear","x1":0,"y1":0,"x2":0,"y2":1,"stops":[{"offset":0,"color":"#F7AE72"},{"offset":1,"color":"#F2E1EC"}]}},"encoding":{"y2":{"field":"b"},"detail":{"field":"s"}}},
{"data":{"name":"mauve"},"mark":{"type":"line","interpolate":"monotone","color":"#B08A9C","strokeWidth":2.5,"opacity":0.75},"encoding":{"detail":{"field":"s"}}},
{"data":{"name":"olive"},"mark":{"type":"line","interpolate":"monotone","color":"#8C8C1C","strokeWidth":2},"encoding":{"detail":{"field":"s"}}},
{"data":{"name":"orange"},"mark":{"type":"line","interpolate":"monotone","color":"#FF8C10","strokeWidth":2.5},"encoding":{"detail":{"field":"s"}}},
{"data":{"name":"purple"},"mark":{"type":"line","interpolate":"monotone","color":"#2E1C8C","strokeWidth":2.5},"encoding":{"detail":{"field":"s"}}},
{"data":{"name":"bg"},"mark":{"type":"line","interpolate":"monotone","color":"black","strokeWidth":3},"encoding":{"detail":{"field":"s"}}},
{"data":{"name":"pts"},"mark":{"type":"point","shape":"circle","filled":false,"stroke":"#555555","strokeWidth":1,"size":72,"opacity":0.8}},
{"data":{"name":"env"},"mark":{"type":"line","interpolate":"monotone","color":"#9A1515","strokeWidth":3},"encoding":{"detail":{"field":"s"}}},
{"data":{"values":[{"x":711.09,"y":308,"x2":709.69,"y2":329.7},{"x":710.39,"y":136.3,"x2":709.17,"y2":164.7}]},"mark":{"type":"rule","color":"#3A2390","strokeWidth":1.5},"encoding":{"x2":{"field":"x2"},"y2":{"field":"y2"}}},
{"data":{"values":[{"x":709.69,"y":329.7}]},"mark":{"type":"point","shape":"triangle-up","filled":true,"color":"#3A2390","size":35,"angle":43,"opacity":1}},
{"data":{"values":[{"x":709.17,"y":164.7}]},"mark":{"type":"point","shape":"triangle-up","filled":true,"color":"#3A2390","size":35,"angle":31,"opacity":1}},
{"data":{"values":[{"x":735.1,"y":353,"t":"Fe 2p (Before OER)"},{"x":735.15,"y":173.5,"t":"Fe 2p (After OER)"}]},"mark":{"type":"text","align":"left","font":"Liberation Serif","fontWeight":"bold","fontSize":15,"color":"#3D9BEA"},"encoding":{"text":{"field":"t"}}},
{"data":{"values":[{"x":711.57,"y":337.5,"t":"Fe(III) 2p"},{"x":711.18,"y":166.5,"t":"Fe(III) 2p"}]},"mark":{"type":"text","align":"left","font":"Liberation Serif","fontWeight":"bold","fontSize":14,"color":"black"},"encoding":{"text":{"field":"t"}}},
{"data":{"values":[{"x":707.46,"y":333,"t":"3/2"},{"x":707.08,"y":162,"t":"3/2"}]},"mark":{"type":"text","align":"left","font":"Liberation Serif","fontWeight":"bold","fontSize":9.5,"color":"black"},"encoding":{"text":{"field":"t"}}},
{"data":{"values":[{"x":725.8,"y":24,"t":"(Co"},{"x":723.76,"y":24,"t":"Ni"},{"x":722.33,"y":24,"t":")"},{"x":721.62,"y":24,"t":"Fe"},{"x":720.12,"y":24,"t":"(III)-MOF"}]},"mark":{"type":"text","align":"left","font":"Liberation Serif","fontWeight":"bold","fontSize":15.5,"color":"#3A9A28"},"encoding":{"text":{"field":"t"}}},
{"data":{"values":[{"x":724.11,"y":20.5,"t":"1"},{"x":722.68,"y":20.5,"t":"1"},{"x":721.96,"y":20.5,"t":"2"},{"x":720.47,"y":20.5,"t":"1"}]},"mark":{"type":"text","align":"left","font":"Liberation Serif","fontWeight":"bold","fontSize":10,"color":"#3A9A28"},"encoding":{"text":{"field":"t"}}},
{"data":{"values":[{"x":736.97,"y":355,"t":"b"}]},"mark":{"type":"text","align":"center","font":"Liberation Serif","fontWeight":"bold","fontSize":28,"color":"black"},"encoding":{"text":{"field":"t"}}}
]}
]
}
